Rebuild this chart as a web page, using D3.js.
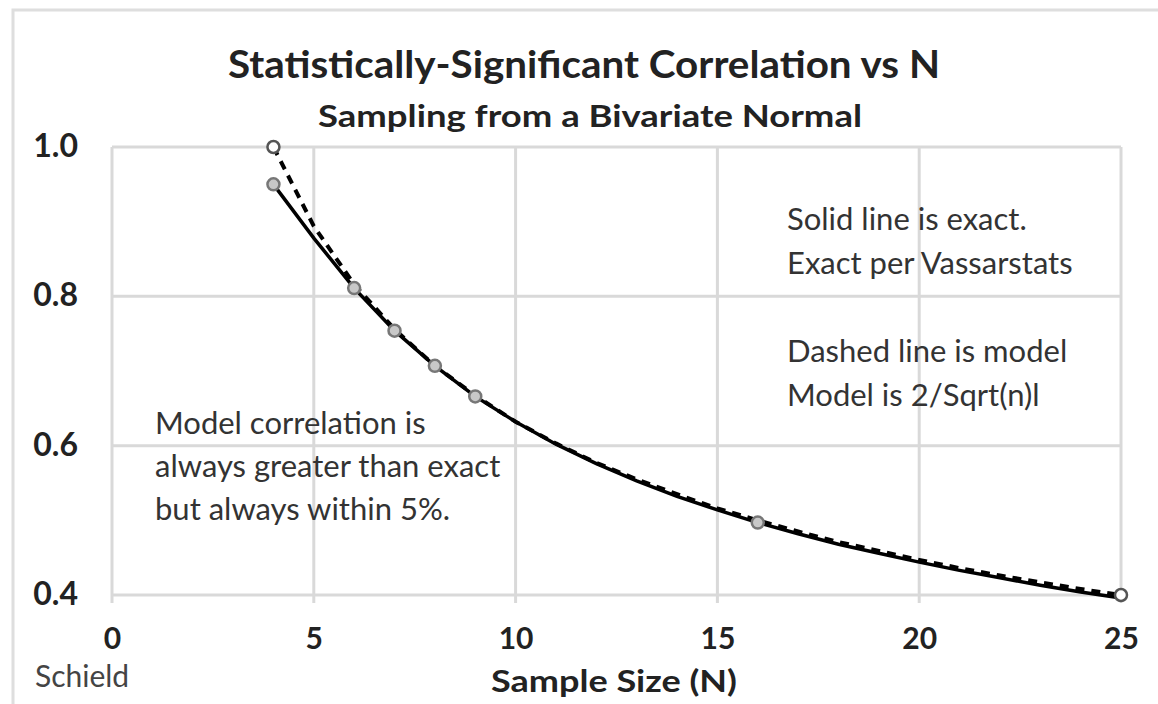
<!DOCTYPE html>
<html>
<head>
<meta charset="utf-8">
<script src="https://cdn.jsdelivr.net/npm/d3@7"></script>
<style>
  body { margin: 0; background: #fff; }
  svg { display: block; font-family: Lato, 'Open Sans', sans-serif; }
</style>
</head>
<body>
<script>
'use strict';

const width = 1158;
const height = 704;

// sample sizes and critical r values (5%, two-tailed)
const sampleN = [4, 5, 6, 7, 8, 9, 10, 11, 12, 13, 14, 15, 16, 17, 18, 19, 20, 21, 22, 23, 24, 25];
const exactR = [0.950, 0.878, 0.811, 0.754, 0.707, 0.666, 0.632, 0.602, 0.576, 0.553, 0.532,
  0.514, 0.497, 0.482, 0.468, 0.456, 0.444, 0.433, 0.423, 0.413, 0.404, 0.396];
const modelR = [1.000, 0.894, 0.816, 0.756, 0.707, 0.667, 0.632, 0.603, 0.577, 0.555, 0.535,
  0.516, 0.500, 0.485, 0.471, 0.459, 0.447, 0.436, 0.426, 0.417, 0.408, 0.400];
const exactMarkerN = [4, 6, 7, 8, 9, 16];
const modelMarkerN = [4, 25];

const xTicks = [0, 5, 10, 15, 20, 25];
const yTicks = [0.4, 0.6, 0.8, 1.0];

const noteRight = ['Solid line is exact.', 'Exact per Vassarstats', '', 'Dashed line is model', 'Model is 2/Sqrt(n)l'];
const noteLeft = ['Model correlation is', 'always greater than exact', 'but always within 5%.'];

const x = d3.scaleLinear().domain([0, 25]).range([112, 1121]);
const y = d3.scaleLinear().domain([0.4, 1.0]).range([595, 147]);

const svg = d3.select('body').append('svg')
    .attr('width', width)
    .attr('height', height);

// outer chart border (right and bottom edges fall outside the picture)
svg.append('rect')
    .attr('x', 13).attr('y', 10)
    .attr('width', 1170).attr('height', 720)
    .attr('fill', 'none')
    .attr('stroke', '#dedede')
    .attr('stroke-width', 3);

// gridlines
const grid = svg.append('g').attr('stroke', '#d9d9d9').attr('stroke-width', 3);
grid.selectAll('.gx').data(xTicks).join('line')
    .attr('x1', d => x(d)).attr('x2', d => x(d))
    .attr('y1', y(1.0)).attr('y2', y(0.4) + 8);
grid.selectAll('.gy').data(yTicks).join('line')
    .attr('x1', x(0)).attr('x2', x(25))
    .attr('y1', d => y(d)).attr('y2', d => y(d));

// axes (labels only)
const xAxis = svg.append('g')
    .attr('transform', 'translate(0,' + y(0.4) + ')')
    .call(d3.axisBottom(x).tickValues(xTicks).tickSize(0).tickPadding(33));
const yAxis = svg.append('g')
    .attr('transform', 'translate(' + x(0) + ',0)')
    .call(d3.axisLeft(y).tickValues(yTicks).tickFormat(d3.format('.1f')).tickSize(0).tickPadding(34));
[xAxis, yAxis].forEach((a) => {
  a.select('.domain').remove();
  a.selectAll('text')
      .attr('font-family', 'Lato, sans-serif')
      .attr('font-size', 30)
      .attr('font-weight', 'bold')
      .attr('fill', '#222');
});
yAxis.selectAll('text').attr('font-size', 32).attr('dy', '0.3em');

// lines
const pts = (vals) => sampleN.map((n, i) => [n, vals[i]]);
const line = d3.line().x(d => x(d[0])).y(d => y(d[1]));

svg.append('path')
    .attr('d', line(pts(exactR)))
    .attr('fill', 'none')
    .attr('stroke', '#000')
    .attr('stroke-width', 3.5);

svg.append('path')
    .attr('d', line(pts(modelR)))
    .attr('fill', 'none')
    .attr('stroke', '#000')
    .attr('stroke-width', 4)
    .attr('stroke-dasharray', '9,7');

// markers
svg.selectAll('.mExact').data(exactMarkerN).join('circle')
    .attr('cx', d => x(d))
    .attr('cy', d => y(exactR[sampleN.indexOf(d)]))
    .attr('r', 6)
    .attr('fill', '#c8c8c8')
    .attr('stroke', '#777')
    .attr('stroke-width', 2.5);

svg.selectAll('.mModel').data(modelMarkerN).join('circle')
    .attr('cx', d => x(d))
    .attr('cy', d => y(modelR[sampleN.indexOf(d)]))
    .attr('r', 6)
    .attr('fill', '#fff')
    .attr('stroke', '#555')
    .attr('stroke-width', 2.5);

// titles
svg.append('text')
    .attr('x', 584).attr('y', 78)
    .attr('text-anchor', 'middle')
    .attr('font-size', 38).attr('font-weight', 'bold')
    .attr('fill', '#222')
    .attr('textLength', 712).attr('lengthAdjust', 'spacingAndGlyphs')
    .text('Statistically-Significant Correlation vs N');

svg.append('text')
    .attr('x', 590).attr('y', 127)
    .attr('text-anchor', 'middle')
    .attr('font-size', 30).attr('font-weight', 'bold')
    .attr('fill', '#222')
    .attr('textLength', 544).attr('lengthAdjust', 'spacingAndGlyphs')
    .text('Sampling from a Bivariate Normal');

svg.append('text')
    .attr('x', 614).attr('y', 692)
    .attr('text-anchor', 'middle')
    .attr('font-size', 31).attr('font-weight', 'bold')
    .attr('fill', '#222')
    .attr('textLength', 246).attr('lengthAdjust', 'spacingAndGlyphs')
    .text('Sample Size (N)');

svg.append('text')
    .attr('x', 35).attr('y', 687)
    .attr('font-size', 30)
    .attr('fill', '#444')
    .text('Schield');

// notes
svg.append('g').selectAll('text').data(noteRight).join('text')
    .attr('x', 787)
    .attr('y', (d, i) => 230 + i * 44)
    .attr('font-size', 31)
    .attr('fill', '#333')
    .text(d => d);

svg.append('g').selectAll('text').data(noteLeft).join('text')
    .attr('x', 155)
    .attr('y', (d, i) => 434 + i * 43)
    .attr('font-size', 31)
    .attr('fill', '#333')
    .text(d => d);
</script>
</body>
</html>
